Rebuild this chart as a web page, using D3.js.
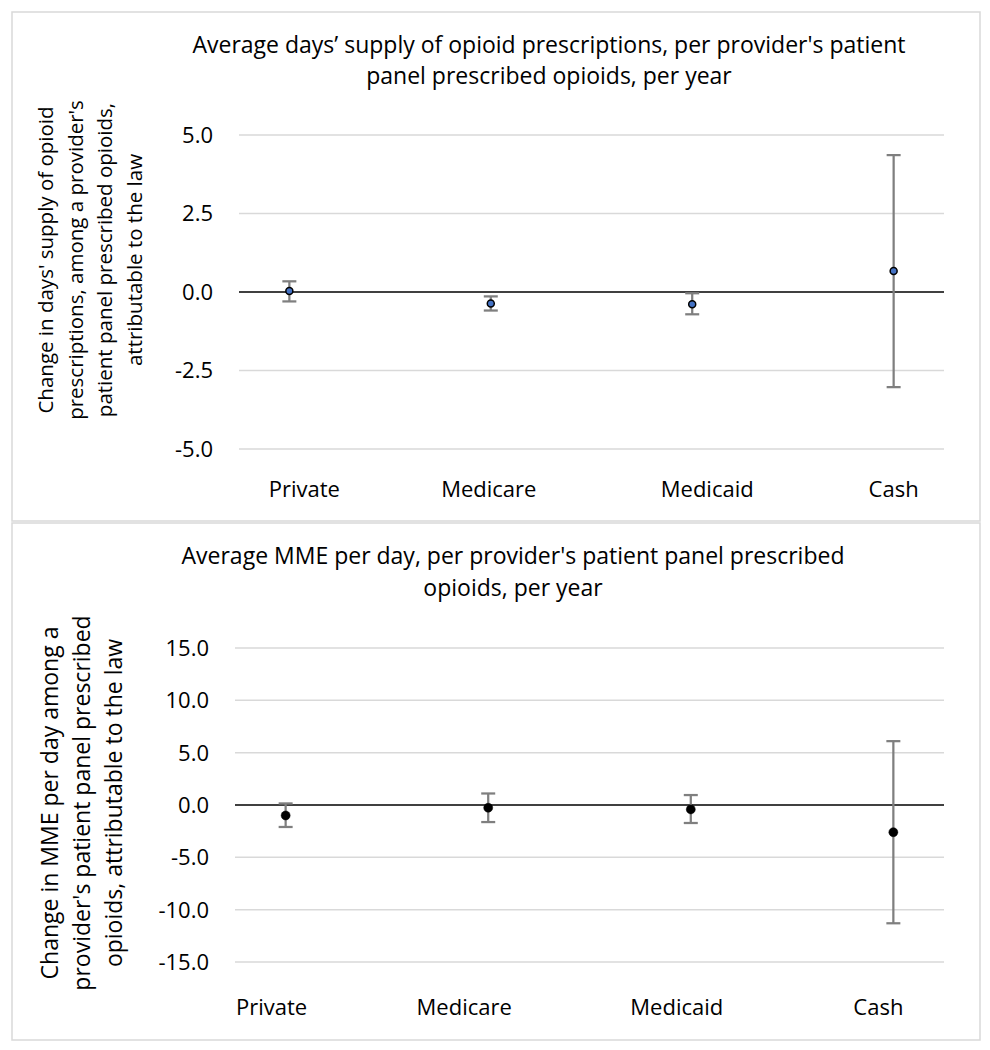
<!DOCTYPE html>
<html><head><meta charset="utf-8">
<script src="https://cdn.jsdelivr.net/npm/d3@7"></script>
<style>body{margin:0;background:#fff;}svg{display:block;}</style>
</head><body>
<svg id="c" width="990" height="1050"></svg>
<script>
const categories = ["Private", "Medicare", "Medicaid", "Cash"];
// Panel 1: average days' supply
const daysEst = [0.03, -0.37, -0.39, 0.67];
const daysLow = [-0.30, -0.59, -0.71, -3.03];
const daysHigh = [0.34, -0.14, -0.04, 4.36];
const daysTicks = [5.0, 2.5, 0.0, -2.5, -5.0];
// Panel 2: MME per day
const mmeEst = [-1.0, -0.26, -0.42, -2.6];
const mmeLow = [-2.1, -1.63, -1.72, -11.3];
const mmeHigh = [0.15, 1.1, 0.95, 6.1];
const mmeTicks = [15.0, 10.0, 5.0, 0.0, -5.0, -10.0, -15.0];

const svg = d3.select("#c");
const FONT = "'Open Sans', sans-serif";

function panel(cfg) {
  const g = svg.append("g");
  g.append("rect").attr("x", cfg.box[0]).attr("y", cfg.box[1])
    .attr("width", cfg.box[2]).attr("height", cfg.box[3])
    .attr("fill", "#fff").attr("stroke", "#d9d9d9").attr("stroke-width", 1.5);
  const x = d3.scalePoint().domain(categories).range([cfg.x0, cfg.x1]).padding(0.25);
  const y = d3.scaleLinear().domain([cfg.min, cfg.max]).range([cfg.yBottom, cfg.yTop]);
  g.selectAll(".grid").data(cfg.ticks.filter(t => t !== 0)).join("line")
    .attr("x1", cfg.x0).attr("x2", cfg.x1)
    .attr("y1", d => y(d)).attr("y2", d => y(d))
    .attr("stroke", "#d9d9d9").attr("stroke-width", 1.5);
  g.selectAll(".tl").data(cfg.ticks).join("text")
    .attr("x", cfg.x0 - 26).attr("y", d => y(d)).attr("dy", "0.36em")
    .attr("text-anchor", "end").attr("font-family", FONT).attr("font-size", cfg.tickFs)
    .attr("fill", "#000").text(d => d3.format(".1f")(d).replace("\u2212", "-"));
  g.append("line").attr("x1", cfg.x0).attr("x2", cfg.x1)
    .attr("y1", y(0)).attr("y2", y(0)).attr("stroke", "#000").attr("stroke-width", 1.5);
  g.selectAll(".cl").data(categories).join("text")
    .attr("x", (d, i) => x(d) + cfg.catDx[i]).attr("y", cfg.catY).attr("text-anchor", "middle")
    .attr("font-family", FONT).attr("font-size", cfg.catFs).text(d => d);
  const rows = categories.map((c, i) => ({c, est: cfg.est[i], lo: cfg.lo[i], hi: cfg.hi[i]}));
  const eb = g.selectAll(".eb").data(rows).join("g").attr("stroke", "#7f7f7f").attr("stroke-width", 2.25);
  eb.append("line").attr("x1", d => x(d.c)).attr("x2", d => x(d.c))
    .attr("y1", d => y(d.lo)).attr("y2", d => y(d.hi));
  eb.append("line").attr("x1", d => x(d.c) - 7).attr("x2", d => x(d.c) + 7)
    .attr("y1", d => y(d.lo)).attr("y2", d => y(d.lo));
  eb.append("line").attr("x1", d => x(d.c) - 7).attr("x2", d => x(d.c) + 7)
    .attr("y1", d => y(d.hi)).attr("y2", d => y(d.hi));
  g.selectAll(".pt").data(rows).join("circle")
    .attr("cx", d => x(d.c)).attr("cy", d => y(d.est)).attr("r", cfg.r)
    .attr("fill", cfg.fill).attr("stroke", "#000").attr("stroke-width", cfg.sw);
  const t = g.append("text").attr("text-anchor", "middle").attr("font-family", FONT)
    .attr("font-size", cfg.titleFs).attr("fill", "#000");
  cfg.title.forEach((line, i) => t.append("tspan").attr("x", cfg.titleX).attr("y", cfg.titleY + i * cfg.titleLh).text(line));
  const at = g.append("text").attr("text-anchor", "middle").attr("font-family", FONT)
    .attr("font-size", cfg.axFs).attr("fill", "#000")
    .attr("transform", `translate(${cfg.axX},${cfg.axY}) rotate(-90)`);
  cfg.axTitle.forEach((line, i) => at.append("tspan").attr("x", 0).attr("y", i * cfg.axLh).text(line));
}

panel({
  box: [12, 12, 968, 509], x0: 239, x1: 944, min: -5, max: 5, yTop: 135, yBottom: 449,
  ticks: daysTicks, est: daysEst, lo: daysLow, hi: daysHigh, tickFs: 22, catFs: 22, catY: 497,
  catDx: [15, -2, 15, 0],
  r: 3.5, fill: "#4472c4", sw: 1.5,
  title: ["Average days\u2019 supply of opioid prescriptions, per provider's patient", "panel prescribed opioids, per year"],
  titleX: 549, titleY: 53, titleLh: 31, titleFs: 23,
  axTitle: ["Change in days' supply of opioid", "prescriptions, among a provider's", "patient panel prescribed  opioids,", "attributable to the law"],
  axX: 53, axY: 260, axLh: 29.5, axFs: 20.5
});
panel({
  box: [12, 523, 968, 517], x0: 235, x1: 944, min: -15, max: 15, yTop: 648, yBottom: 962,
  ticks: mmeTicks, est: mmeEst, lo: mmeLow, hi: mmeHigh, tickFs: 22, catFs: 22, catY: 1015,
  catDx: [-14, -24, -14, -15],
  r: 4.5, fill: "#000", sw: 0.5,
  title: ["Average MME per day, per provider's patient panel prescribed", "opioids, per year"],
  titleX: 513, titleY: 564, titleLh: 32, titleFs: 23,
  axTitle: ["Change in MME per day among a", "provider's patient panel prescribed", "opioids, attributable to the law"],
  axX: 58, axY: 803, axLh: 32, axFs: 23
});
</script>
</body></html>
